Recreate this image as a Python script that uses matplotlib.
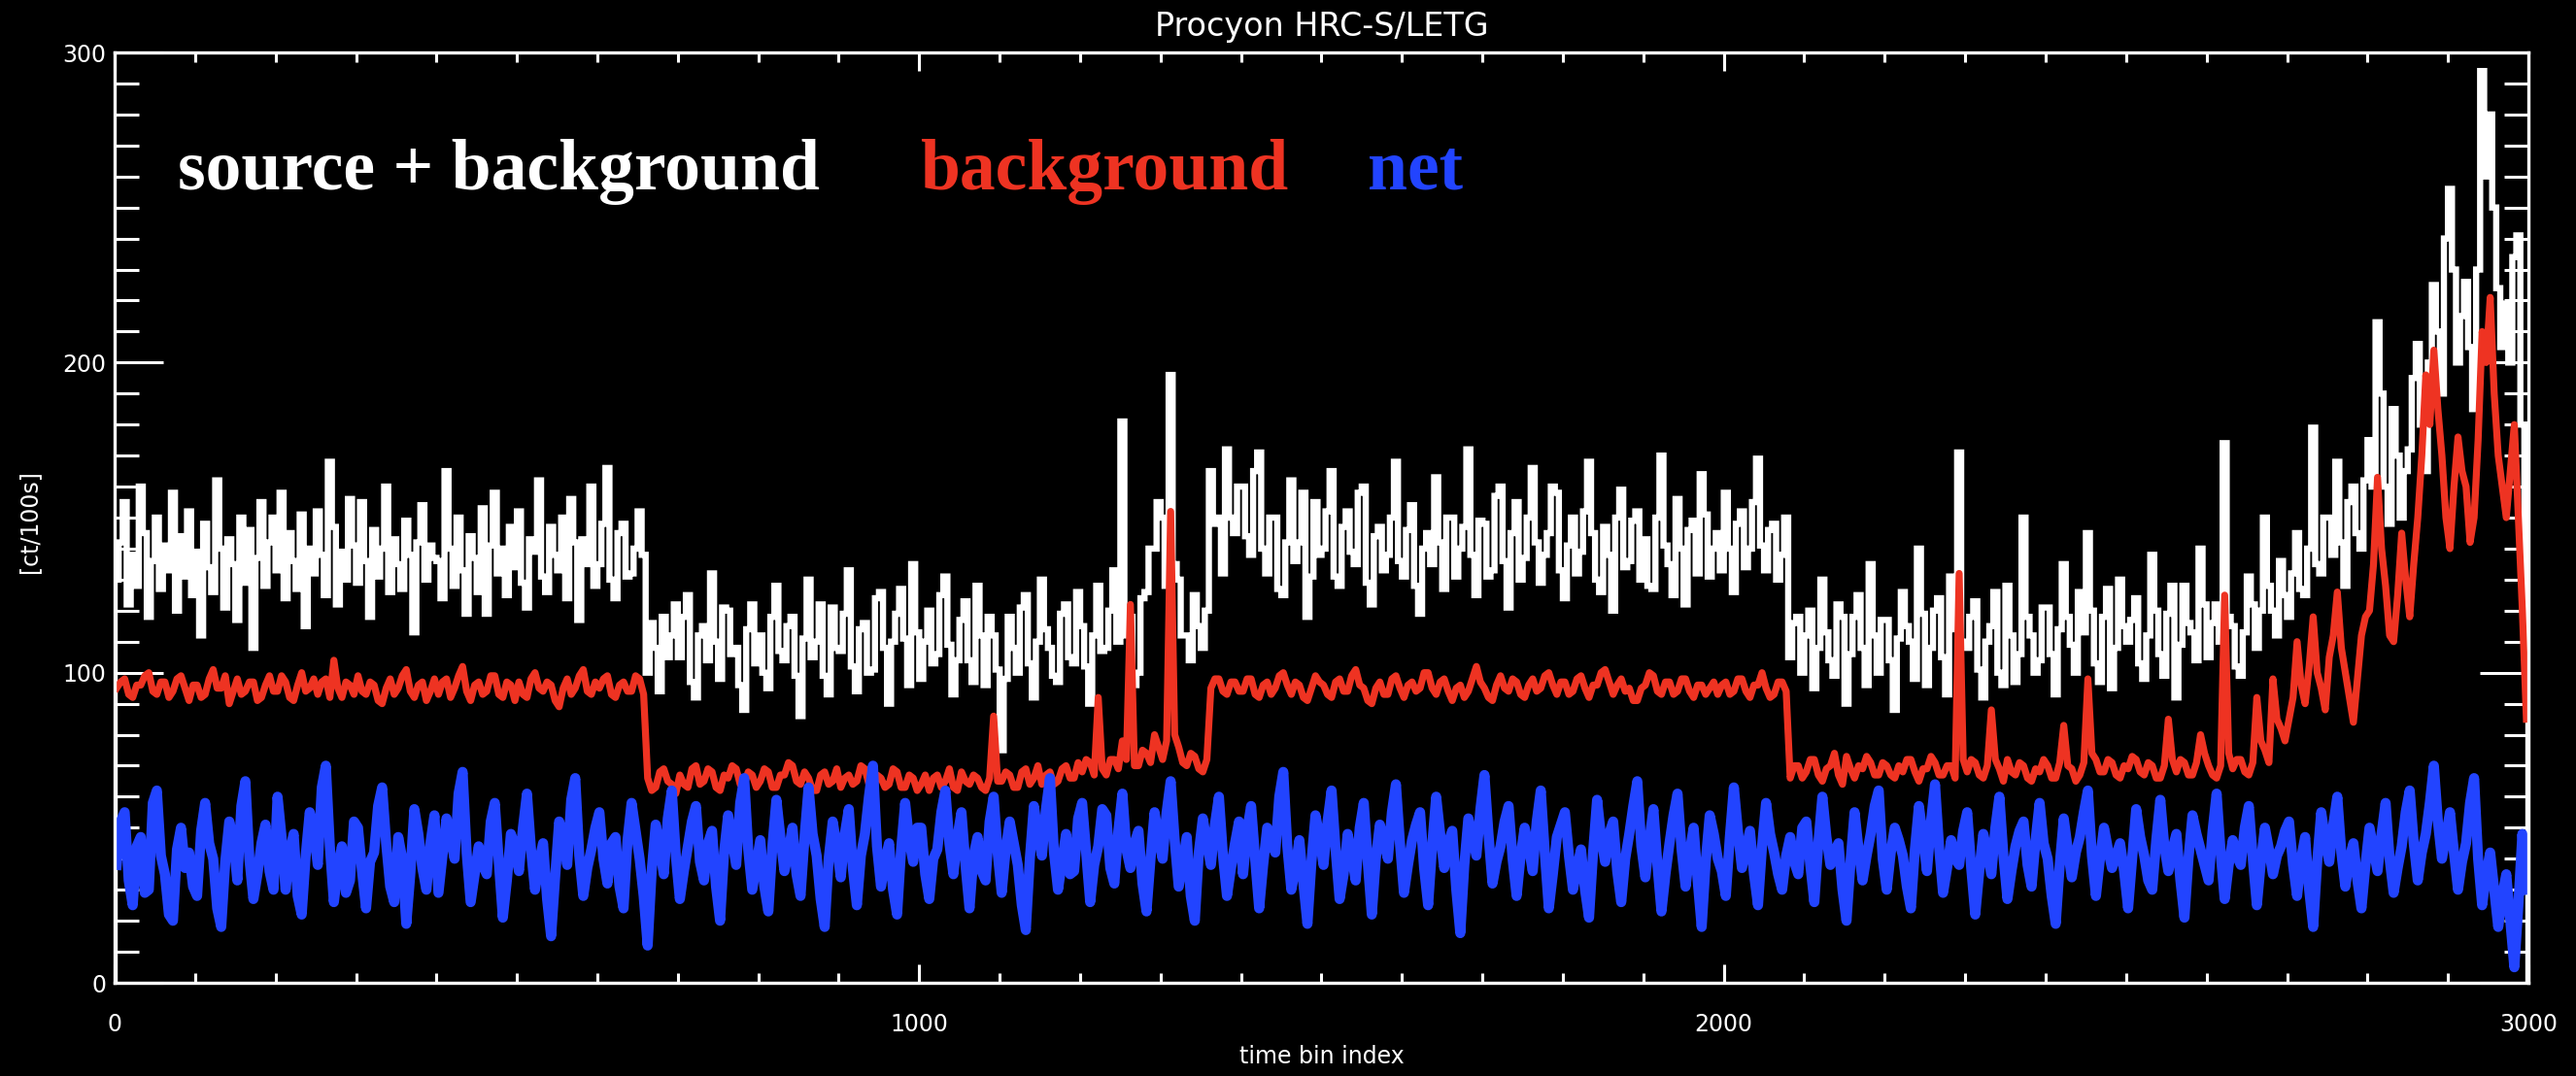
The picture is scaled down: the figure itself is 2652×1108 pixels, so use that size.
import numpy as np
import matplotlib
matplotlib.use("Agg")
import matplotlib.pyplot as plt
from matplotlib.ticker import MultipleLocator, FixedLocator

# ---------------- data (5-bin resolution) ----------------
title = "Procyon HRC-S/LETG"
x_label = "time bin index"
y_label = "[ct/100s]"
series_labels = ["source + background", "background", "net"]
x_ticks = [0, 1000, 2000, 3000]
y_ticks = [0, 100, 200, 300]
bin_width = 5

source_bkg = [
    130, 142, 155, 122, 138, 128, 160, 145, 118, 136, 150, 127, 141, 133, 158, 120, 144, 131, 152, 125,
    139, 112, 148, 134, 126, 162, 140, 121, 143, 135, 117, 150, 129, 146, 108, 137, 155, 128, 142, 150,
    133, 158, 124, 145, 136, 127, 151, 115, 140, 132, 152, 138, 125, 168, 147, 122, 139, 130, 156, 141,
    129, 155, 136, 118, 146, 131, 140, 160, 126, 143, 135, 127, 149, 138, 113, 142, 154, 130, 141, 137,
    136, 124, 165, 140, 128, 150, 133, 119, 144, 137, 126, 153, 119, 141, 158, 132, 140, 125, 147, 134,
    152, 129, 121, 143, 139, 162, 131, 126, 147, 138, 133, 150, 124, 156, 142, 117, 143, 135, 160, 128,
    135, 148, 166, 130, 124, 145, 148, 131, 132, 140, 152, 138, 100, 116, 108, 94, 118, 105, 112, 122,
    105, 118, 125, 97, 92, 112, 115, 104, 132, 110, 98, 121, 120, 106, 108, 96, 88, 114, 122, 103,
    112, 100, 95, 118, 128, 107, 104, 115, 118, 99, 86, 111, 130, 105, 110, 122, 99, 93, 121, 108,
    107, 119, 133, 102, 94, 114, 116, 100, 101, 124, 126, 108, 90, 110, 119, 127, 111, 96, 135, 113,
    98, 110, 120, 103, 106, 125, 131, 109, 93, 104, 117, 123, 104, 97, 128, 112, 96, 118, 112, 101,
    75, 98, 118, 108, 100, 121, 125, 103, 92, 110, 130, 114, 108, 99, 97, 119, 122, 105, 103, 126,
    115, 102, 90, 112, 128, 107, 108, 120, 133, 110, 181, 112, 118, 96, 100, 124, 126, 140, 140, 155,
    150, 128, 196, 135, 130, 112, 112, 104, 125, 115, 108, 120, 165, 148, 150, 132, 172, 150, 145, 160,
    160, 144, 138, 165, 171, 140, 132, 150, 150, 127, 125, 142, 162, 136, 142, 158, 118, 131, 155, 138,
    140, 152, 165, 131, 128, 147, 152, 139, 135, 158, 160, 129, 122, 144, 147, 133, 138, 150, 168, 136,
    131, 146, 154, 128, 119, 140, 145, 135, 163, 142, 127, 150, 150, 131, 140, 147, 172, 138, 125, 149,
    148, 131, 133, 157, 160, 136, 121, 145, 155, 130, 137, 150, 166, 142, 129, 138, 145, 160, 158, 133,
    124, 141, 150, 132, 139, 152, 168, 145, 130, 126, 147, 138, 120, 150, 159, 134, 136, 149, 152, 130,
    143, 128, 127, 150, 170, 141, 135, 125, 156, 140, 122, 146, 149, 132, 164, 151, 131, 140, 145, 133,
    158, 140, 126, 148, 152, 134, 140, 155, 169, 141, 133, 146, 148, 130, 138, 150, 105, 116, 118, 100,
    112, 120, 95, 108, 130, 113, 104, 99, 122, 118, 90, 106, 118, 125, 108, 96, 135, 112, 100, 117,
    117, 104, 88, 111, 126, 115, 110, 98, 140, 119, 96, 108, 120, 124, 105, 93, 131, 114, 171, 110,
    108, 118, 123, 101, 92, 110, 115, 126, 100, 96, 128, 112, 97, 106, 150, 118, 112, 100, 104, 121,
    121, 106, 93, 114, 135, 118, 109, 100, 126, 113, 145, 120, 103, 97, 118, 127, 95, 108, 130, 115,
    110, 117, 124, 103, 98, 112, 138, 120, 106, 99, 119, 128, 92, 109, 128, 116, 113, 104, 140, 122,
    105, 116, 122, 110, 174, 118, 115, 102, 99, 113, 131, 122, 108, 120, 150, 128, 120, 112, 136, 125,
    118, 132, 145, 127, 125, 140, 179, 135, 132, 150, 150, 138, 168, 142, 128, 155, 160, 145, 140, 162,
    175, 160, 213, 190, 160, 148, 185, 170, 150, 165, 172, 195, 206, 180, 165, 200, 225, 210, 190, 240,
    256, 230, 200, 215, 226, 205, 185, 230, 294, 260, 280, 250, 224, 205, 219, 200, 234, 241, 180, 105,
]

background = [
    95, 97, 98, 93, 92, 96, 96, 99, 100, 94, 93, 97, 97, 92, 94, 98, 99, 95, 91, 96,
    96, 92, 93, 98, 101, 95, 95, 99, 90, 94, 98, 93, 94, 97, 97, 91, 92, 96, 99, 94,
    94, 99, 97, 92, 91, 96, 100, 94, 95, 98, 93, 97, 98, 92, 104, 95, 92, 97, 96, 93,
    99, 94, 93, 97, 96, 91, 90, 95, 98, 93, 95, 99, 101, 94, 92, 96, 97, 91, 94, 98,
    93, 97, 98, 92, 95, 99, 102, 94, 91, 96, 97, 93, 94, 99, 99, 93, 92, 97, 96, 91,
    97, 93, 92, 98, 100, 95, 94, 97, 96, 91, 89, 95, 98, 93, 95, 99, 101, 94, 93, 97,
    95, 98, 99, 93, 92, 96, 97, 94, 94, 99, 98, 93, 66, 62, 63, 68, 69, 65, 64, 61,
    67, 64, 63, 69, 70, 64, 65, 69, 68, 63, 62, 67, 66, 70, 69, 64, 64, 68, 67, 63,
    65, 69, 68, 63, 63, 67, 67, 71, 70, 65, 64, 68, 66, 62, 62, 67, 68, 64, 65, 69,
    63, 66, 67, 64, 65, 70, 69, 64, 62, 67, 66, 63, 64, 69, 68, 63, 63, 67, 66, 62,
    64, 67, 62, 66, 67, 63, 65, 69, 63, 62, 68, 65, 64, 67, 66, 63, 62, 66, 86, 65,
    65, 68, 67, 63, 63, 68, 69, 64, 66, 70, 64, 67, 68, 64, 65, 69, 70, 66, 66, 71,
    68, 72, 71, 67, 92, 69, 67, 72, 72, 69, 78, 72, 122, 70, 70, 75, 74, 71, 80, 76,
    72, 78, 152, 80, 76, 71, 70, 74, 73, 69, 68, 72, 95, 98, 98, 94, 93, 97, 97, 94,
    94, 98, 98, 93, 92, 96, 97, 93, 95, 99, 100, 96, 93, 97, 96, 92, 91, 95, 99, 97,
    96, 93, 92, 97, 98, 94, 94, 99, 101, 96, 95, 91, 90, 95, 97, 93, 93, 98, 99, 95,
    92, 96, 97, 94, 95, 100, 100, 95, 93, 97, 98, 94, 91, 95, 96, 92, 94, 98, 102, 97,
    95, 92, 91, 96, 99, 95, 94, 98, 97, 93, 92, 96, 98, 94, 95, 99, 100, 96, 93, 97,
    97, 93, 94, 98, 99, 95, 92, 96, 96, 100, 101, 97, 93, 96, 98, 94, 95, 91, 91, 95,
    96, 100, 99, 94, 93, 97, 97, 93, 94, 98, 98, 94, 92, 96, 96, 93, 95, 97, 93, 96,
    97, 93, 94, 98, 98, 94, 92, 96, 96, 100, 95, 92, 93, 97, 97, 94, 66, 70, 70, 66,
    68, 72, 72, 67, 65, 69, 70, 74, 67, 64, 73, 69, 66, 70, 69, 73, 71, 67, 67, 71,
    70, 67, 66, 70, 68, 72, 72, 68, 65, 69, 69, 73, 71, 67, 67, 70, 70, 66, 132, 72,
    68, 72, 71, 67, 66, 70, 88, 72, 69, 65, 72, 68, 67, 71, 70, 66, 65, 69, 68, 72,
    70, 66, 66, 71, 83, 70, 69, 65, 67, 71, 98, 74, 72, 68, 68, 72, 71, 67, 66, 70,
    69, 73, 72, 68, 67, 71, 70, 66, 66, 70, 85, 72, 68, 72, 71, 67, 67, 71, 80, 74,
    70, 67, 66, 70, 125, 74, 69, 72, 72, 68, 67, 71, 92, 78, 75, 71, 98, 85, 82, 78,
    85, 92, 110, 96, 90, 102, 118, 100, 95, 88, 105, 112, 126, 108, 100, 92, 84, 98, 112, 118,
    120, 135, 163, 140, 128, 112, 110, 125, 145, 130, 118, 135, 150, 170, 196, 180, 204, 185, 170, 150,
    140, 160, 176, 165, 160, 142, 150, 175, 210, 200, 221, 190, 170, 160, 150, 165, 180, 150, 120, 85,
]

net = [
    38, 52, 55, 33, 25, 44, 47, 29, 30, 58, 62, 41, 35, 22, 20, 43, 50, 37, 42, 31,
    28, 49, 58, 45, 40, 24, 18, 39, 52, 46, 33, 57, 65, 40, 27, 35, 45, 51, 36, 30,
    60, 47, 30, 42, 48, 28, 22, 41, 55, 49, 38, 63, 70, 44, 26, 37, 44, 29, 33, 52,
    50, 36, 24, 39, 42, 57, 63, 45, 31, 26, 47, 40, 19, 35, 56, 48, 37, 30, 45, 54,
    29, 41, 53, 47, 40, 61, 68, 42, 26, 35, 44, 38, 35, 52, 58, 39, 21, 33, 48, 44,
    36, 50, 61, 43, 30, 39, 45, 27, 15, 34, 52, 47, 38, 59, 66, 41, 28, 37, 43, 50,
    55, 40, 32, 45, 47, 31, 24, 46, 58, 49, 40, 28, 12, 36, 51, 44, 35, 53, 62, 41,
    27, 36, 44, 52, 57, 39, 33, 45, 49, 31, 20, 42, 54, 46, 38, 58, 66, 43, 30, 38,
    46, 31, 23, 44, 59, 47, 36, 42, 50, 35, 28, 47, 63, 48, 41, 27, 18, 40, 52, 44,
    34, 48, 56, 37, 25, 41, 48, 60, 70, 44, 31, 39, 45, 30, 22, 43, 58, 46, 39, 50,
    50, 35, 27, 40, 43, 55, 62, 45, 35, 47, 55, 38, 24, 41, 47, 36, 33, 52, 60, 42,
    29, 43, 52, 45, 38, 25, 17, 40, 57, 48, 41, 56, 66, 42, 30, 39, 48, 35, 36, 53,
    58, 42, 26, 38, 44, 56, 54, 37, 32, 49, 61, 43, 37, 45, 49, 32, 23, 40, 55, 47,
    40, 55, 65, 46, 31, 39, 47, 28, 20, 42, 53, 45, 38, 51, 60, 41, 28, 37, 45, 52,
    35, 49, 57, 40, 24, 38, 50, 46, 42, 60, 68, 44, 30, 37, 46, 32, 19, 39, 54, 47,
    38, 52, 62, 43, 27, 35, 48, 41, 33, 50, 58, 39, 22, 40, 51, 46, 40, 55, 64, 45,
    29, 38, 46, 51, 55, 37, 25, 44, 60, 48, 37, 45, 49, 30, 16, 38, 53, 47, 41, 56,
    67, 48, 32, 39, 44, 52, 57, 40, 28, 41, 50, 44, 36, 52, 62, 42, 24, 35, 47, 51,
    55, 41, 30, 37, 43, 30, 21, 42, 59, 47, 39, 48, 52, 36, 26, 40, 48, 57, 65, 44,
    34, 46, 56, 38, 23, 35, 45, 54, 61, 43, 31, 42, 50, 33, 18, 39, 54, 48, 40, 36,
    28, 47, 63, 49, 37, 43, 49, 35, 25, 44, 58, 48, 42, 35, 30, 41, 47, 39, 35, 50,
    52, 38, 26, 45, 60, 47, 38, 42, 45, 30, 20, 39, 55, 43, 33, 41, 48, 57, 62, 40,
    30, 42, 50, 46, 41, 31, 24, 43, 57, 47, 36, 52, 64, 44, 29, 37, 46, 40, 38, 49,
    55, 37, 22, 36, 48, 42, 35, 50, 60, 41, 27, 36, 44, 49, 52, 38, 31, 46, 58, 45,
    40, 28, 19, 38, 53, 43, 34, 42, 47, 55, 62, 41, 28, 40, 50, 43, 37, 41, 45, 36,
    24, 40, 56, 47, 41, 33, 30, 46, 59, 44, 36, 43, 48, 33, 21, 40, 54, 48, 43, 38,
    33, 49, 61, 42, 27, 38, 46, 41, 38, 50, 57, 40, 25, 39, 50, 43, 35, 41, 44, 49,
    52, 38, 28, 40, 47, 30, 18, 39, 55, 46, 39, 51, 60, 42, 31, 40, 45, 33, 24, 38,
    50, 43, 36, 48, 58, 40, 29, 37, 44, 55, 62, 45, 33, 42, 48, 58, 70, 52, 40, 47,
    55, 42, 30, 39, 45, 58, 66, 40, 25, 35, 42, 30, 18, 28, 35, 20, 5, 25, 48, 30,
]

colors = ["#ffffff", "#ee3322", "#2244ff"]

# ---------------- figure ----------------
W, H = 2652, 1108
fig = plt.figure(figsize=(W / 100, H / 100), dpi=100, facecolor="black")
ax = fig.add_axes([118 / W, 1 - 1012 / H, (2603 - 118) / W, (1012 - 54) / H])
ax.set_facecolor("black")

edges = np.arange(len(source_bkg) + 1) * bin_width
bkg_x = np.arange(len(background)) * bin_width + bin_width / 2
net_x = np.arange(len(net)) * bin_width + bin_width / 2

ax.stairs(source_bkg, edges, color=colors[0], lw=4.6, zorder=2)
ax.plot(bkg_x, background, color=colors[1], lw=5.2, zorder=3)
ax.plot(net_x, net, color=colors[2], lw=7.5, zorder=4)

ax.set_xlim(0, 3000)
ax.set_ylim(0, 300)

for sp in ax.spines.values():
    sp.set_color("white")
    sp.set_linewidth(2.4)
    sp.set_zorder(5)

ax.xaxis.set_major_locator(FixedLocator(x_ticks))
ax.xaxis.set_minor_locator(MultipleLocator(100))
ax.yaxis.set_major_locator(FixedLocator(y_ticks))
ax.yaxis.set_minor_locator(MultipleLocator(10))
ax.tick_params(which="both", direction="in", top=True, right=True,
               color="white", width=2.2, labelcolor="white")
ax.tick_params(axis="x", which="major", length=14, pad=22, labelsize=17)
ax.tick_params(axis="x", which="minor", length=7)
ax.tick_params(axis="y", which="major", length=36, pad=6, labelsize=17)
ax.tick_params(axis="y", which="minor", length=18)

fig.text(1361 / W, 1 - 28 / H, title, color="white", fontsize=24,
         ha="center", va="center")
fig.text(1361 / W, 1 - 1088 / H, x_label, color="white", fontsize=17,
         ha="center", va="center")
fig.text(30 / W, 1 - 537 / H, y_label, color="white", fontsize=17,
         ha="center", va="center", rotation=90)

text_x = [0.026, 0.3335, 0.519]
for lbl, c, tx in zip(series_labels, colors, text_x):
    ax.text(tx, 0.853, lbl, transform=ax.transAxes, color=c,
            fontfamily="Liberation Serif", fontweight="bold", fontsize=53,
            va="baseline", ha="left", zorder=6)

fig.savefig("out.png", dpi=100, facecolor="black")
